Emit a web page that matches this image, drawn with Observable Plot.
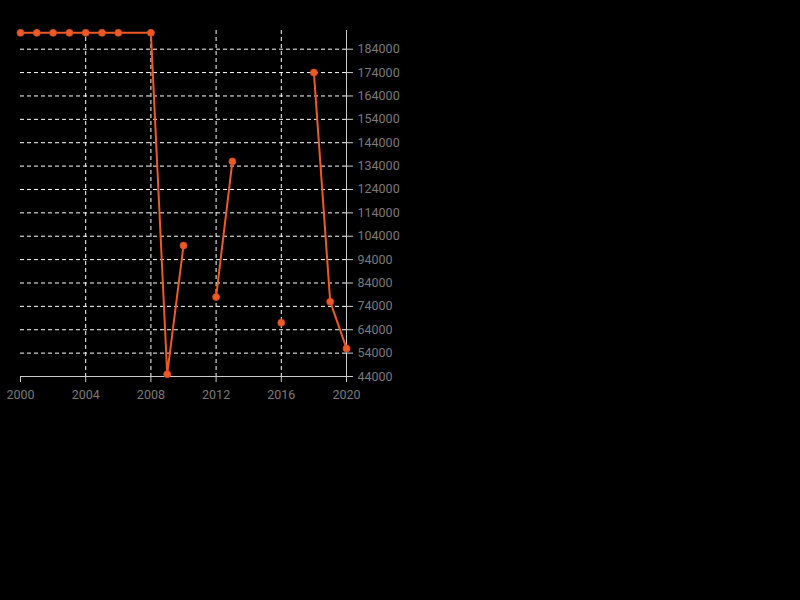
<!DOCTYPE html>
<html>
<head>
<meta charset="utf-8">
<script src="https://cdn.jsdelivr.net/npm/d3@7"></script>
<script src="https://cdn.jsdelivr.net/npm/@observablehq/plot@0.6"></script>
<style>
  html, body { margin: 0; padding: 0; background: #000; }
  #chart { width: 800px; height: 600px; background: #000; }
</style>
</head>
<body>
<div id="chart"></div>
<script>
const years = [2000, 2001, 2002, 2003, 2004, 2005, 2006, 2008, 2009, 2010, 2011, 2012, 2013, 2014, 2015, 2016, 2017, 2018, 2019, 2020];
const values = [191000, 191000, 191000, 191000, 191000, 191000, 191000, 191000, 45000, 100000, NaN, 78000, 136000, NaN, NaN, 67000, NaN, 174000, 76000, 56000];
const yTicks = [44000, 54000, 64000, 74000, 84000, 94000, 104000, 114000, 124000, 134000, 144000, 154000, 164000, 174000, 184000];
const xTicks = [2000, 2004, 2008, 2012, 2016, 2020];
const xGrid = [2004, 2008, 2012, 2016];

const data = years.map((y, i) => ({year: y, value: values[i]}));
const color = "#ee5a24";
const axisColor = "#cccccc";
const labelColor = "#7a7a7a";

const chart = Plot.plot({
  width: 440,
  height: 410,
  marginLeft: 20,
  marginRight: 94,
  marginTop: 30,
  marginBottom: 34,
  style: {background: "#000", color: labelColor, fontFamily: "Roboto, sans-serif", fontSize: "12.5px", overflow: "visible"},
  x: {domain: [2000, 2020]},
  y: {domain: [44000, 192000]},
  marks: [
    Plot.gridY(yTicks, {stroke: "#ffffff", strokeOpacity: 1, strokeDasharray: "4,3"}),
    Plot.gridX(xGrid, {stroke: "#ffffff", strokeOpacity: 1, strokeDasharray: "4,3"}),
    Plot.ruleY([44000], {stroke: axisColor}),
    Plot.ruleX([2020], {stroke: axisColor}),
    Plot.axisY(yTicks, {anchor: "right", tickSize: 6, tickPadding: 5, stroke: axisColor, fill: labelColor, label: null, tickFormat: d => String(d)}),
    Plot.axisX(xTicks, {anchor: "bottom", tickSize: 6, tickPadding: 8, stroke: axisColor, fill: labelColor, label: null, tickFormat: d => String(d)}),
    Plot.line(data, {x: "year", y: "value", stroke: color, strokeWidth: 2}),
    Plot.dot(data.filter(d => !isNaN(d.value)), {x: "year", y: "value", r: 3.5, fill: color, stroke: "#d9481a", strokeWidth: 0.8})
  ]
});
document.getElementById("chart").appendChild(chart);
</script>
</body>
</html>
